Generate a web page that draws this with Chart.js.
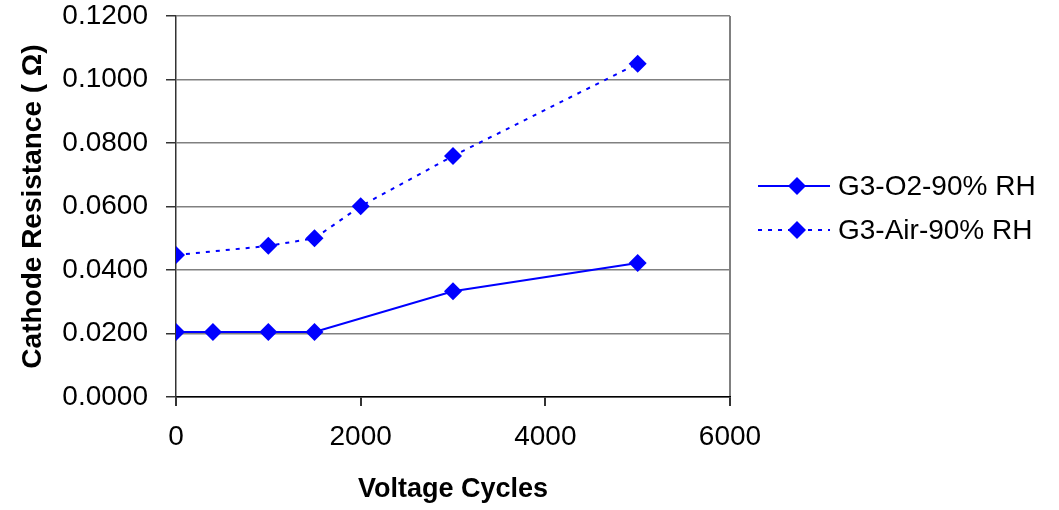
<!DOCTYPE html>
<html>
<head>
<meta charset="utf-8">
<title>Cathode Resistance vs Voltage Cycles</title>
<script src="https://cdn.jsdelivr.net/npm/chart.js@4/dist/chart.umd.min.js"></script>
<style>
  body { margin: 0; background: #fff; }
  #wrap { width: 1059px; height: 510px; }
</style>
</head>
<body>
<div id="wrap"><canvas id="resistChart" width="1059" height="510"></canvas></div>
<script>
// cycle counts and measured cathode resistance for each gas
var o2Cycles = [0, 400, 1000, 1500, 3000, 5000];
var o2Resistance = [0.0205, 0.0205, 0.0205, 0.0205, 0.0333, 0.0422];
var airCycles = [0, 1000, 1500, 2000, 3000, 5000];
var airResistance = [0.0447, 0.0476, 0.0500, 0.0601, 0.0759, 0.1050];
var seriesNames = ['G3-O2-90% RH', 'G3-Air-90% RH'];
var xTicks = [0, 2000, 4000, 6000];
var yTicks = [0, 0.02, 0.04, 0.06, 0.08, 0.10, 0.12];

var FONT = '"Liberation Sans", Arial, sans-serif';

function toPoints(xs, ys) {
  return xs.map(function (x, i) { return {x: x, y: ys[i]}; });
}

// legend on the right: line sample with a diamond, then the series name
var sideLegend = {
  id: 'sideLegend',
  afterDraw: function (chart) {
    var ctx = chart.ctx;
    var area = chart.chartArea;
    var x0 = area.right + 28;
    var rowY = [186, 230];
    ctx.save();
    chart.data.datasets.forEach(function (ds, i) {
      var y = rowY[i];
      ctx.strokeStyle = ds.borderColor;
      ctx.lineWidth = ds.borderWidth;
      ctx.setLineDash(ds.borderDash || []);
      ctx.beginPath();
      ctx.moveTo(x0, y);
      ctx.lineTo(x0 + 72, y);
      ctx.stroke();
      ctx.setLineDash([]);
      ctx.fillStyle = ds.pointBackgroundColor;
      Chart.helpers.drawPoint(ctx, {pointStyle: 'rectRot', radius: ds.pointRadius, borderWidth: 0}, x0 + 39, y);
      ctx.fillStyle = '#000';
      ctx.font = '28px ' + FONT;
      ctx.textAlign = 'left';
      ctx.textBaseline = 'middle';
      ctx.fillText(ds.label, x0 + 80, y + 1);
    });
    ctx.restore();
  }
};

var ctx = document.getElementById('resistChart');
var chart = new Chart(ctx, {
  type: 'line',
  data: {
    datasets: [{
      label: seriesNames[0],
      data: toPoints(o2Cycles, o2Resistance),
      borderColor: '#0000ff',
      backgroundColor: '#0000ff',
      pointBackgroundColor: '#0000ff',
      borderWidth: 2,
      pointStyle: 'rectRot',
      pointRadius: 9,
      pointBorderWidth: 0,
      tension: 0
    }, {
      label: seriesNames[1],
      data: toPoints(airCycles, airResistance),
      borderColor: '#0000ff',
      backgroundColor: '#0000ff',
      pointBackgroundColor: '#0000ff',
      borderWidth: 2,
      borderDash: [4, 6],
      pointStyle: 'rectRot',
      pointRadius: 9,
      pointBorderWidth: 0,
      tension: 0
    }]
  },
  options: {
    responsive: false,
    animation: false,
    devicePixelRatio: 1,
    layout: {padding: {left: 10, top: 16, right: 329, bottom: 4}},
    plugins: {
      legend: {display: false},
      tooltip: {enabled: false}
    },
    scales: {
      x: {
        type: 'linear',
        min: 0,
        max: 6000,
        afterBuildTicks: function (scale) {
          scale.ticks = xTicks.map(function (v) { return {value: v}; });
        },
        afterFit: function (scale) {
          scale.height = 109;
          scale.paddingLeft = 0;
          scale.paddingRight = 0;
        },
        ticks: {
          color: '#000',
          font: {family: FONT, size: 28},
          padding: 14,
          maxRotation: 0,
          autoSkip: false,
          callback: function (v) { return String(v); }
        },
        grid: {
          drawOnChartArea: true,
          color: function (c) { return c.tick && c.tick.value === 6000 ? '#808080' : 'rgba(0,0,0,0)'; },
          lineWidth: 2,
          tickColor: '#333',
          tickLength: 9
        },
        border: {color: '#000', width: 1.5},
        title: {
          display: true,
          text: 'Voltage Cycles',
          color: '#000',
          font: {family: FONT, size: 27, weight: 'bold'},
          padding: {top: 0, bottom: 0}
        }
      },
      y: {
        min: 0,
        max: 0.12,
        afterBuildTicks: function (scale) {
          scale.ticks = yTicks.map(function (v) { return {value: v}; });
        },
        afterFit: function (scale) {
          scale.width = 166;
          scale.paddingTop = 0;
          scale.paddingBottom = 0;
        },
        ticks: {
          color: '#000',
          font: {family: FONT, size: 28},
          padding: 18,
          callback: function (v) { return Number(v).toFixed(4); }
        },
        grid: {
          color: '#808080',
          lineWidth: 1.5,
          tickColor: '#333',
          tickLength: 10
        },
        border: {color: '#333', width: 1.5},
        title: {
          display: true,
          text: 'Cathode Resistance ( Ω)',
          color: '#000',
          font: {family: FONT, size: 28, weight: 'bold'},
          padding: {top: 6, bottom: 0}
        }
      }
    }
  },
  plugins: [sideLegend]
});
</script>
</body>
</html>
